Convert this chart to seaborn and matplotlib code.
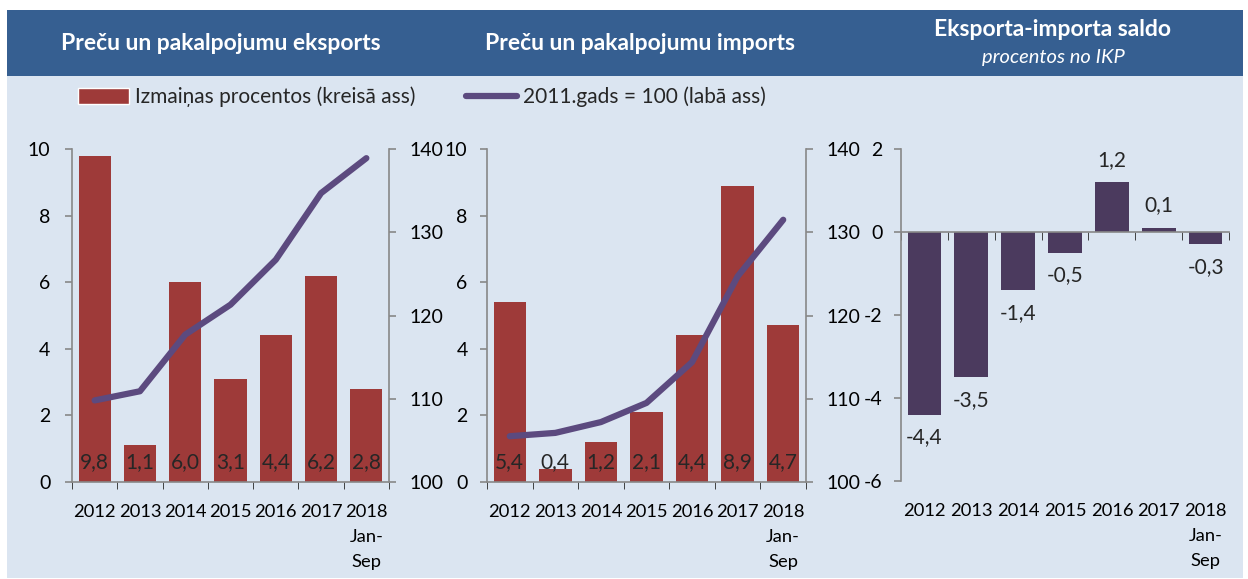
import numpy as np
import matplotlib.pyplot as plt
import seaborn as sns
from matplotlib.patches import Rectangle, Patch
from matplotlib.lines import Line2D

# data
years = ['2012', '2013', '2014', '2015', '2016', '2017', '2018\nJan-\nSep']
export_change = [9.8, 1.1, 6.0, 3.1, 4.4, 6.2, 2.8]
export_index = [109.8, 110.9, 117.7, 121.3, 126.7, 134.7, 138.9]
import_change = [5.4, 0.4, 1.2, 2.1, 4.4, 8.9, 4.7]
import_index = [105.5, 105.9, 107.2, 109.5, 114.4, 124.7, 131.5]
balance = [-4.4, -3.5, -1.4, -0.5, 1.2, 0.1, -0.3]

RED = '#9e3a39'
PURPLE = '#5c4a7f'
DARK = '#4b3a5e'
HEADER = '#365f91'
BG = '#dbe5f1'
AXC = '#888888'

sns.set_style('ticks')
plt.rcParams['font.family'] = ['Lato', 'DejaVu Sans']
plt.rcParams['font.size'] = 14
plt.rcParams['axes.unicode_minus'] = False

W, H = 1248, 579
fig = plt.figure(figsize=(W / 100, H / 100), dpi=100, facecolor='white')

# background + header band
fig.patches.append(Rectangle((7 / W, 1 / H), 1236 / W, 568 / H, transform=fig.transFigure,
                             facecolor=BG, edgecolor='none', zorder=-2))
fig.patches.append(Rectangle((7 / W, 1 - 76 / H), 1236 / W, 66 / H, transform=fig.transFigure,
                             facecolor=HEADER, edgecolor='none', zorder=-1))


def fmt(v):
    return f"{v:.1f}".replace('.', ',')


def style_axis(ax):
    ax.set_facecolor('none')
    for s in ax.spines.values():
        s.set_color(AXC)
        s.set_linewidth(1.2)
    ax.tick_params(colors=AXC, labelcolor='black', labelsize=14, width=1.2)
    ax.set_xlabel('')
    ax.set_ylabel('')


def style_xlabels(ax):
    ax.tick_params(axis='x', which='major', length=0, pad=16, labelsize=13.2)
    ax.set_xticks(np.arange(-0.5, 7, 1), minor=True)


def change_panel(left, right, change, index, lpad, rpad):
    ax = fig.add_axes([left / W, (H - 482) / H, (right - left) / W, 333 / H])
    sns.barplot(x=years, y=change, color=RED, width=0.71, saturation=1, linewidth=0, ax=ax)
    ax.set_xlim(-0.5, 6.5)
    ax.set_ylim(0, 10)
    ax.set_yticks(range(0, 11, 2))
    for i, v in enumerate(change):
        ax.text(i, 0.3, fmt(v), ha='center', va='bottom', fontsize=15)
    style_axis(ax)
    style_xlabels(ax)
    ax.spines[['top', 'right']].set_visible(False)
    ax.tick_params(axis='x', which='minor', length=5)
    ax.tick_params(axis='y', length=5, pad=lpad)

    ax2 = ax.twinx()
    sns.lineplot(x=years, y=index, color=PURPLE, lw=4.5, sort=False, ax=ax2,
                 solid_capstyle='round')
    ax2.set_ylim(100, 140)
    ax2.set_yticks(range(100, 141, 10))
    style_axis(ax2)
    ax2.spines[['top', 'left', 'bottom']].set_visible(False)
    ax2.tick_params(axis='y', length=5, pad=rpad)
    ax.set_xlim(-0.5, 6.5)
    return ax


ax1 = change_panel(72, 389, export_change, export_index, 10.5, 10)
ax2 = change_panel(487, 806, import_change, import_index, 9, 9.5)

# balance panel
ax3 = fig.add_axes([901 / W, (H - 481) / H, (1229 - 901) / W, 332 / H])
sns.barplot(x=years, y=balance, color=DARK, width=0.72, saturation=1, linewidth=0, ax=ax3)
ax3.set_xlim(-0.5, 6.5)
ax3.set_ylim(-6, 2)
ax3.set_yticks(range(-6, 3, 2))
style_axis(ax3)
style_xlabels(ax3)
ax3.spines[['bottom', 'right']].set_visible(False)
ax3.spines['top'].set_position(('data', 0))
ax3.tick_params(axis='x', which='minor', bottom=False, top=True, direction='in', length=6)
ax3.tick_params(axis='y', length=5, pad=8.5)
ax3.bar_label(ax3.containers[0], labels=[fmt(v) for v in balance], padding=9, fontsize=15)

# headers
hkw = dict(color='white', fontweight='bold', fontsize=16.5, ha='center', va='center')
fig.text(221 / W, 1 - 44 / H, 'Preču un pakalpojumu eksports', **hkw)
fig.text(640 / W, 1 - 44 / H, 'Preču un pakalpojumu imports', **hkw)
fig.text(1053 / W, 1 - 30 / H, 'Eksporta-importa saldo', **hkw)
fig.text(1053 / W, 1 - 58 / H, 'procentos no IKP', color='white', style='italic',
         fontsize=14.5, ha='center', va='center')

# legend
handles = [Patch(facecolor=RED), Line2D([], [], color=PURPLE, lw=4.5, solid_capstyle='round')]
fig.legend(handles, ['Izmaiņas procentos (kreisā ass)', '2011.gads = 100 (labā ass)'],
           loc='center left', bbox_to_anchor=(78 / W, 1 - 97 / H), ncol=2, frameon=False,
           fontsize=15, handlelength=2.45, handleheight=0.8, handletextpad=0.3,
           columnspacing=2.4, borderpad=0, borderaxespad=0)

# wider line spacing for the multi-line "2018 Jan- Sep" labels
fig.canvas.draw()
for ax in (ax1, ax2, ax3):
    for lbl in ax.get_xticklabels():
        lbl.set_linespacing(1.7)

fig.savefig('out.png', dpi=100)
